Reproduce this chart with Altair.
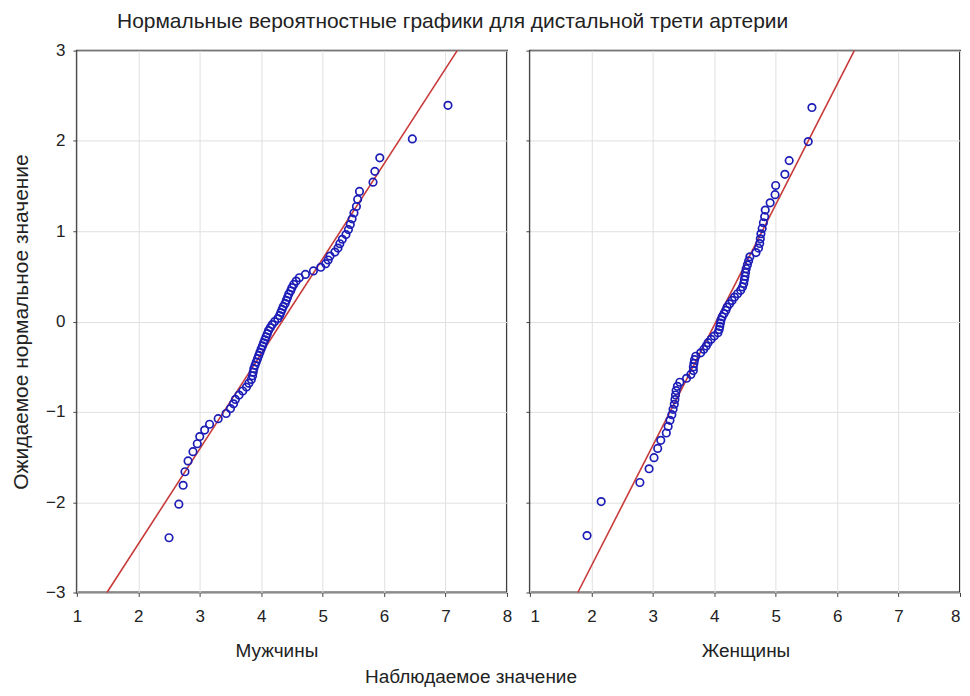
import altair as alt
import pandas as pd

title_text = "Нормальные вероятностные графики для дистальной трети артерии"
y_title = "Ожидаемое нормальное значение"
x_title = "Наблюдаемое значение"
panel_titles = ["Мужчины", "Женщины"]

x_ticks = [1, 2, 3, 4, 5, 6, 7, 8]
y_ticks = [-3, -2, -1, 0, 1, 2, 3]

men_x = [2.50, 2.66, 2.73, 2.76, 2.81, 2.89, 2.96, 3.00, 3.08, 3.16,
         3.30, 3.43, 3.50, 3.55, 3.58, 3.64, 3.70, 3.76, 3.80, 3.84,
         3.86, 3.87, 3.88, 3.90, 3.92, 3.94, 3.96, 3.98, 4.00, 4.02,
         4.04, 4.06, 4.08, 4.10, 4.12, 4.15, 4.18, 4.22,
         4.27, 4.30, 4.32, 4.34, 4.36, 4.39, 4.41, 4.43, 4.45, 4.48,
         4.50, 4.53, 4.57, 4.62, 4.72, 4.85, 4.97, 5.05, 5.09, 5.12,
         5.20, 5.25, 5.28, 5.32, 5.38, 5.42, 5.45, 5.48, 5.51, 5.55,
         5.57, 5.60, 5.82, 5.85, 5.93, 6.46, 7.04]
men_y = [-2.394, -2.022, -1.813, -1.663, -1.543, -1.441, -1.353, -1.274, -1.202, -1.137,
         -1.075, -1.018, -0.963, -0.911, -0.862, -0.814, -0.769, -0.725, -0.682, -0.641,
         -0.601, -0.561, -0.522, -0.485, -0.448, -0.411, -0.375, -0.340, -0.305, -0.270,
         -0.235, -0.201, -0.168, -0.134, -0.100, -0.067, -0.033, 0.000,
         0.033, 0.067, 0.100, 0.134, 0.168, 0.201, 0.235, 0.270, 0.305, 0.340,
         0.375, 0.411, 0.448, 0.485, 0.522, 0.561, 0.601, 0.641, 0.682, 0.725,
         0.769, 0.814, 0.862, 0.911, 0.963, 1.018, 1.075, 1.137, 1.202, 1.274,
         1.353, 1.441, 1.543, 1.663, 1.813, 2.022, 2.394]

women_x = [1.93, 2.16, 2.79, 2.94, 3.02, 3.08, 3.13, 3.22, 3.25, 3.28,
           3.31, 3.33, 3.35, 3.36, 3.37, 3.38, 3.40, 3.44, 3.55, 3.62,
           3.66, 3.66, 3.67, 3.68, 3.70, 3.78, 3.83, 3.87, 3.90, 3.95,
           4.00, 4.06, 4.08, 4.09, 4.10,
           4.11, 4.13, 4.16, 4.19, 4.21, 4.25, 4.29, 4.33, 4.38, 4.43,
           4.46, 4.48, 4.49, 4.50, 4.51, 4.52, 4.54, 4.56, 4.58, 4.68,
           4.72, 4.74, 4.75, 4.76, 4.78, 4.80, 4.82, 4.83, 4.91, 4.99,
           5.00, 5.15, 5.22, 5.53, 5.59]
women_y = [-2.370, -1.993, -1.782, -1.630, -1.507, -1.405, -1.315, -1.234, -1.161, -1.094,
           -1.031, -0.972, -0.916, -0.864, -0.813, -0.764, -0.717, -0.672, -0.628, -0.585,
           -0.543, -0.502, -0.462, -0.422, -0.384, -0.346, -0.308, -0.271, -0.234, -0.197,
           -0.161, -0.125, -0.089, -0.054, -0.018,
           0.018, 0.054, 0.089, 0.125, 0.161, 0.197, 0.234, 0.271, 0.308, 0.346,
           0.384, 0.422, 0.462, 0.502, 0.543, 0.585, 0.628, 0.672, 0.717, 0.764,
           0.813, 0.864, 0.916, 0.972, 1.031, 1.094, 1.161, 1.234, 1.315, 1.405,
           1.507, 1.630, 1.782, 1.993, 2.370]

men_line_x = [1.49, 7.19]
men_line_y = [-3, 3]
women_line_x = [1.78, 6.28]
women_line_y = [-3, 3]

FONT = "Liberation Sans"
W, H = 431, 543
TICK_FS = 17
TITLE_FS = 19


def panel(xs, ys, lx, ly, ptitle, left, ptitle_x):
    pts = pd.DataFrame({"x": xs, "y": ys})
    ln = pd.DataFrame({"x": lx, "y": ly})
    xscale = alt.Scale(domain=[1, 8], nice=False, zero=False)
    yscale = alt.Scale(domain=[-3, 3], nice=False, zero=False)
    xaxis = alt.Axis(values=x_ticks, grid=True, gridColor="#e0e0e0", domain=False,
                     ticks=True, tickSize=4, tickColor="#444", labelFontSize=TICK_FS,
                     labelColor="#222", labelPadding=12, labelFlush=not left,
                     titleFontSize=TITLE_FS, titleFontWeight="normal", titleColor="#222",
                     titlePadding=17, titleX=ptitle_x, format="d")
    if left:
        yaxis = alt.Axis(values=y_ticks, grid=True, gridColor="#e0e0e0", domain=False,
                         ticks=True, tickSize=4, tickColor="#444", labelFontSize=TICK_FS,
                         labelColor="#222", labelPadding=8, titleFontSize=21,
                         titleFontWeight="normal", titleColor="#222", titlePadding=14,
                         format="d")
        ytitle = y_title
    else:
        yaxis = alt.Axis(values=y_ticks, grid=True, gridColor="#e0e0e0", domain=False,
                         ticks=True, tickSize=4, tickColor="#444", labels=False)
        ytitle = None
    line = alt.Chart(ln).mark_line(color="#c83a3a", strokeWidth=1.6).encode(
        x=alt.X("x:Q", scale=xscale, axis=xaxis, title=ptitle),
        y=alt.Y("y:Q", scale=yscale, axis=yaxis, title=ytitle),
    )
    points = alt.Chart(pts).mark_point(shape="circle", filled=False, size=56,
                                       strokeWidth=1.7, color="#1c1cb6", opacity=1).encode(
        x="x:Q", y="y:Q")
    layers = [line, points]
    if left:
        bt = alt.Chart(pd.DataFrame({"t": [x_title]})).mark_text(
            fontSize=TITLE_FS, font=FONT, color="#222", baseline="middle", align="center"
        ).encode(text="t:N", x=alt.value(395), y=alt.value(628))
        layers.append(bt)
    return alt.layer(*layers).properties(width=W, height=H)


left = panel(men_x, men_y, men_line_x, men_line_y, panel_titles[0], True, 200)
right = panel(women_x, women_y, women_line_x, women_line_y, panel_titles[1], False, 216)

chart = alt.hconcat(left, right, spacing=23, bounds="flush").properties(
    padding={"left": 1, "top": 2, "right": 0, "bottom": 0},
    title=alt.TitleParams(title_text, fontSize=21, fontWeight="normal", font=FONT,
                          color="#222", anchor="middle", dx=-33, offset=9)
).configure(font=FONT).configure_view(stroke="#333333", strokeWidth=2)

chart.save("out.html", embed_options={"renderer": "svg", "actions": False})
